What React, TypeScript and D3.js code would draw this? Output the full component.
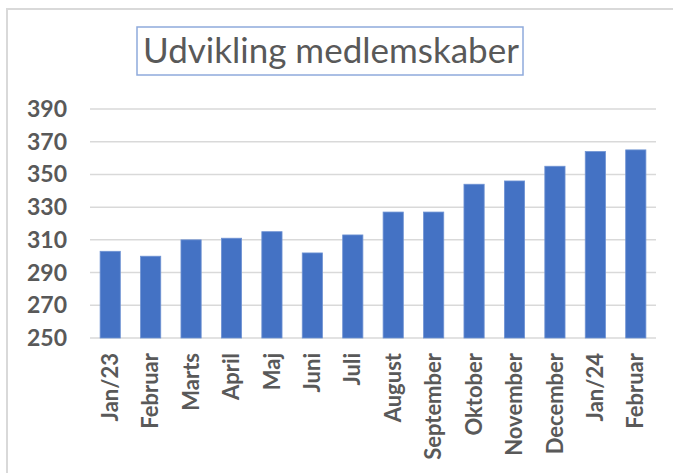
import React from "react";
import * as d3 from "d3";

const months = [
  "Jan/23", "Februar", "Marts", "April", "Maj", "Juni", "Juli",
  "August", "September", "Oktober", "November", "December", "Jan/24", "Februar",
];
const members = [303, 300, 310, 311, 315, 302, 313, 327, 327, 344, 346, 355, 364, 365];
const yTicks = [250, 270, 290, 310, 330, 350, 370, 390];

const width = 673;
const height = 473;
const marginLeft = 90;
const marginRight = 17;
const plotTop = 109;
const plotBottom = 338;

function App() {
  const x = d3
    .scaleBand<number>()
    .domain(d3.range(months.length))
    .range([marginLeft, width - marginRight])
    .paddingInner(0.5)
    .paddingOuter(0.25);

  const y = d3.scaleLinear().domain([250, 390]).range([plotBottom, plotTop]);

  const grey = "#595959";
  const font = "Lato, 'Liberation Sans', sans-serif";

  return (
    <svg
      width={width}
      height={height}
      style={{ position: "absolute", left: 0, top: 0, background: "#fff" }}
    >
      {/* outer chart frame, cut off on the right and bottom */}
      <rect x={7} y={9} width={700} height={500} fill="#fff" stroke="#d9d9d9" strokeWidth={2} />

      {/* title box */}
      <rect x={137} y={27} width={386} height={48} fill="#fff" stroke="#8faadc" strokeWidth={1.5} />
      <text
        x={331}
        y={63}
        textAnchor="middle"
        fontFamily={font}
        fontSize={35}
        fill={grey}
      >
        Udvikling medlemskaber
      </text>

      {/* gridlines */}
      {yTicks.map((t) => (
        <line
          key={t}
          x1={marginLeft}
          x2={width - marginRight}
          y1={y(t)}
          y2={y(t)}
          stroke="#d9d9d9"
          strokeWidth={1.5}
        />
      ))}

      {/* y labels */}
      {yTicks.map((t) => (
        <text
          key={"l" + t}
          x={67}
          y={y(t)}
          dy="0.35em"
          textAnchor="end"
          fontFamily={font}
          fontWeight="bold"
          fontSize={23}
          fill={grey}
        >
          {t}
        </text>
      ))}

      {/* bars */}
      {members.map((v, i) => (
        <rect
          key={i}
          x={x(i)}
          y={y(v)}
          width={x.bandwidth()}
          height={y(250) - y(v)}
          fill="#4472c4"
          stroke="#6f93d3"
          strokeWidth={0.8}
        />
      ))}

      {/* x labels */}
      {months.map((m, i) => {
        const cx = (x(i) as number) + x.bandwidth() / 2;
        return (
          <text
            key={"m" + i}
            transform={`translate(${cx},353) rotate(-90)`}
            dy="0.35em"
            textAnchor="end"
            fontFamily={font}
            fontWeight="bold"
            fontSize={22}
            fill={grey}
          >
            {m}
          </text>
        );
      })}
    </svg>
  );
}

export default App;
